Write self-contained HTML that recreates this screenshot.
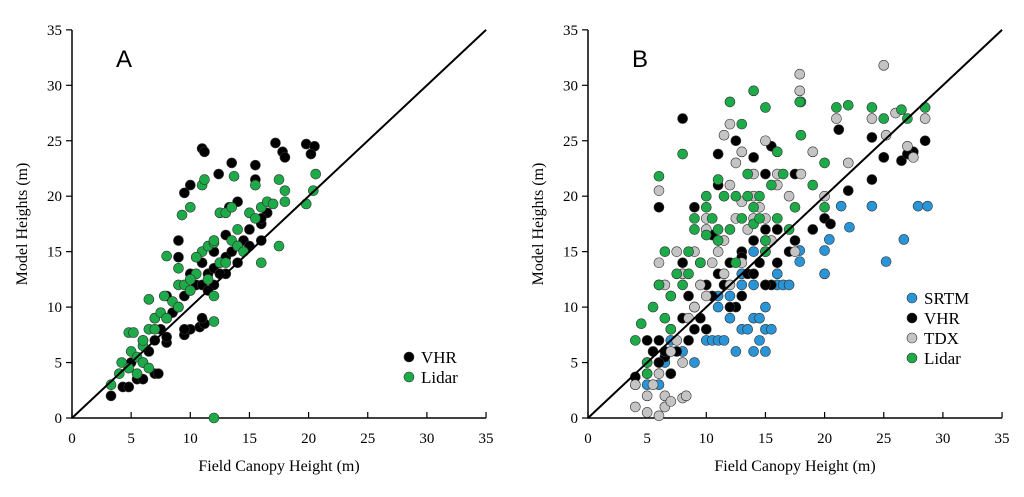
<!DOCTYPE html>
<html><head><meta charset="utf-8"><style>
body{margin:0;background:#fff;}
svg{display:block;font-family:"Liberation Serif",serif;}
</style></head><body>
<svg id="chart" width="1024" height="497"></svg>
<script>
const ticks=[0,5,10,15,20,25,30,35];
const aVhrX=[3.3,4.3,4.8,5.5,6,7,7.3,8,8,9.5,10,10.8,11.2,6,6.5,7,7.5,8,8.5,9,9.5,10,10.5,11,11.5,12,12.5,13,13.5,14,14.5,15,16,16.5,14,13.3,16,15.5,13.5,15.5,11,11.2,10,9.5,12.4,17.2,17.8,18,19.8,20.5,20.2,9,9,10,11,12,13,14,11,8,7,6,5,9.5,12,11.5,13,15,16,12.5];
const aVhrY=[2,2.8,2.8,3.5,3.5,4,4,6.8,7.3,7.5,8,8.2,8.5,5,6,7,8,9,9.5,10,11,11.5,12,12,13,13.5,14,14.5,15,15.5,16,17,17.5,18.5,19.5,19,18,21.5,23,22.8,24.3,24,21,20.3,22,24.8,24,23.5,24.7,24.5,23.8,16,14.5,13,14,12,13,14,9,11,9,7,5,8,15,11.5,16.5,15.5,16,13];
const aLidX=[3.3,4,4.2,4.8,5,5.5,4.8,5.2,6,6,6.5,6.5,7,7.5,7.8,8,8.5,9,9.3,9.5,10,10,10.5,11,11.2,11.5,12,12,12,12.5,13,13.5,13.7,13.5,14,14.5,15,15.5,16,16,16.5,17.5,17.5,18,18,19.8,20.4,20.6,11,11.5,12,12.5,10.5,9,8,7,6,5.5,6.5,9,10,12,13,14,15.5,17];
const aLidY=[3,4,5,4.5,6,5.5,7.7,7.7,5,6.5,8,10.7,9,9.5,11,14.6,10.5,12,18.3,12,11.5,19,13,21,21.5,12.5,8.7,0,11,18.5,18.5,19,21.8,16,15.5,15,18.5,18,14,19,19.5,15.5,21.5,20.5,19.5,19.3,20.5,22,15,15.5,15.8,14,14.5,13.5,9,8,7,4,4.5,10,12.5,16,14,17,21,19.3];
const bSrtmX=[21.4,24,27.9,28.7,22.1,20.4,26.7,25.2,20,20,17.9,17.9,10,10.5,11,11.5,12.5,13,13.5,14,14.5,15,15.5,15,14,10.5,11,12,13,14,15,16,16.5,17,12,13,14,15,16,5,6,7,6.5,8,9,4,5,6,7,8,9,11,12,14.5,15,16];
const bSrtmY=[19.1,19.1,19.1,19.1,17.2,16.1,16.1,14.1,15.1,13,15.1,14.1,7,7,7,7,6,8,8,6,7,8,8,6,9,11,11,11,12,12,12,12,12,12,14,13,15,16,17,3,3,4,5,6,5,3,4,5,7,9,10,10,9,9,10,13];
const bVhrX=[4,5,5.5,6,6.5,7,7.5,8,8.5,9,9.5,10,10.5,11,11.5,12,12.5,13,13.5,14,14.5,15,15.5,16,17,17.5,19,20,20.5,22,24,25,26.5,27.5,28.5,8,8,6,11,11,12.5,14,15,15.5,17.5,21.2,24,25,27,5,6,7,9,10,12,13,14,15,16,7,8.5,13,15,10.5,6.5,9];
const bVhrY=[3.7,5,6,7,5.5,8,6,9,7,10,9,12,11,13,12,14,10,15,13,16,14,15,12,14,15,16,17,18,17.5,20.5,21.5,23.5,23.2,24,25,27,14,19,23.8,21,25,23.5,22,24.5,22,26,25.3,23.5,23.8,7,5,4,8,8,10,11,13,12,17,11,11,14.5,17,16.5,6,19];
const bTdxX=[4,5,5.5,6,6.5,7,7.5,8,8.5,9,9.5,10,10.5,11,11.5,12,12.5,13,13.5,14,14.5,15,15.5,16,17,17.5,18,19,20,21,22,24,25,26,27,27.5,28.5,4,5,6,6.5,7,8,8.3,9,6,6,8,10,11,12,13,14,15,16,17.9,17.9,25.2,12.5,11.5,13,14,9.5,7.5,6.5,10,11.5,12];
const bTdxY=[1,0.5,3,4,2,6,7,5,9,10,12,11,14,15,13,12,18,14,17,20,19,18,16,21,20,15,22,24,20,27,23,27,31.8,27.5,24.5,23.5,27,3,2,0.2,1,1.5,1.8,2,15,20.5,14,13,17,16,26.5,24,22,25,22,31,29.5,25.5,23,16,19.5,18,14,15,12,18,25.5,21];
const bLidX=[4,4.5,5,5.5,6,6.5,7,7.5,8,8.5,9,9.5,10,10.5,11,11.5,12,12.5,13,13.5,14,14.5,15,15.5,16,17,17.5,18,19,20,21,22,24,25,26.5,27,28.5,6,6,8,9,10,11,12,13,14,15,16,16.5,17.9,18,14,15,12.5,11,10,8.5,5,7,13.5,14.5,20,6.5,9.5];
const bLidY=[7,8.5,5,10,12,9,11,13,12,15,17,14,19,18,16,20,17,14,18,22,19,20,16,21,18,17,19,28.5,21,23,28,28.2,28,27,27.8,27,28,21.8,12,23.8,18,20,21.5,28.5,26.5,29.5,28,24,22,28.5,25.5,17.5,15,20,17,16.5,13,4,8,20,18,19,15,14];

const svg=document.getElementById('chart');
const NS='http://www.w3.org/2000/svg';
function mk(tag,attrs,parent){const e=document.createElementNS(NS,tag);for(const k in attrs)e.setAttribute(k,attrs[k]);(parent||svg).appendChild(e);return e;}
function panel(x0,name,label,series,legendX,legendY){
  const sx=v=>x0+v*11.83, sy=v=>418-v*11.09;
  const g=mk('g',{});
  
  
  const ax=mk('path',{d:`M${x0},30V418H${sx(35)}`,stroke:'#000','stroke-width':1.5,fill:'none'},g);
  
  
  ticks.forEach(t=>{
    mk('line',{x1:x0-6,x2:x0,y1:sy(t),y2:sy(t),stroke:'#000','stroke-width':1.2},g);
    mk('line',{x1:sx(t),x2:sx(t),y1:418,y2:412,stroke:'#000','stroke-width':1.2},g);
    const yl=mk('text',{x:x0-10,y:sy(t)+5,'text-anchor':'end','font-size':15},g);yl.textContent=t;
    
    
    const xl=mk('text',{x:sx(t),y:443,'text-anchor':'middle','font-size':15},g);xl.textContent=t;
    
    
  });
  const yt=mk('text',{x:0,y:0,transform:`translate(${x0-45},224) rotate(-90)`,'text-anchor':'middle','font-size':16},g);yt.textContent='Model Heights (m)';
  
  
  const xt=mk('text',{x:sx(17.5),y:471,'text-anchor':'middle','font-size':16},g);xt.textContent='Field Canopy Height (m)';
  
  
  const pl=mk('text',{x:x0+44,y:67,'font-size':24,'font-family':'Liberation Sans, sans-serif'},g);pl.textContent=label;
  
  
  series.forEach(s=>{
    s.xs.forEach((v,i)=>{
      const c=mk('circle',{cx:sx(v),cy:sy(s.ys[i]),r:5,fill:s.color,stroke:'#333','stroke-width':0.6},g);
      
      
    });
  });
  const one=mk('line',{x1:sx(0),y1:sy(0),x2:sx(35),y2:sy(35),stroke:'#000','stroke-width':2},g);
  
  
  series.forEach((s,i)=>{
    const ly=legendY+i*20;
    const lc=mk('circle',{cx:legendX,cy:ly,r:5,fill:s.color,stroke:'#333','stroke-width':0.6},g);
    
    
    const lt=mk('text',{x:legendX+12,y:ly+6,'font-size':17},g);lt.textContent=s.name;
    
    
  });
}
panel(72,'panel-a','A',[{name:'VHR',xs:aVhrX,ys:aVhrY,color:'#000'},{name:'Lidar',xs:aLidX,ys:aLidY,color:'#1daa48'}],409,357);
panel(588,'panel-b','B',[{name:'SRTM',xs:bSrtmX,ys:bSrtmY,color:'#2994d6'},{name:'VHR',xs:bVhrX,ys:bVhrY,color:'#000'},{name:'TDX',xs:bTdxX,ys:bTdxY,color:'#c4c4c4'},{name:'Lidar',xs:bLidX,ys:bLidY,color:'#1daa48'}],912,298);
</script>
</body></html>
